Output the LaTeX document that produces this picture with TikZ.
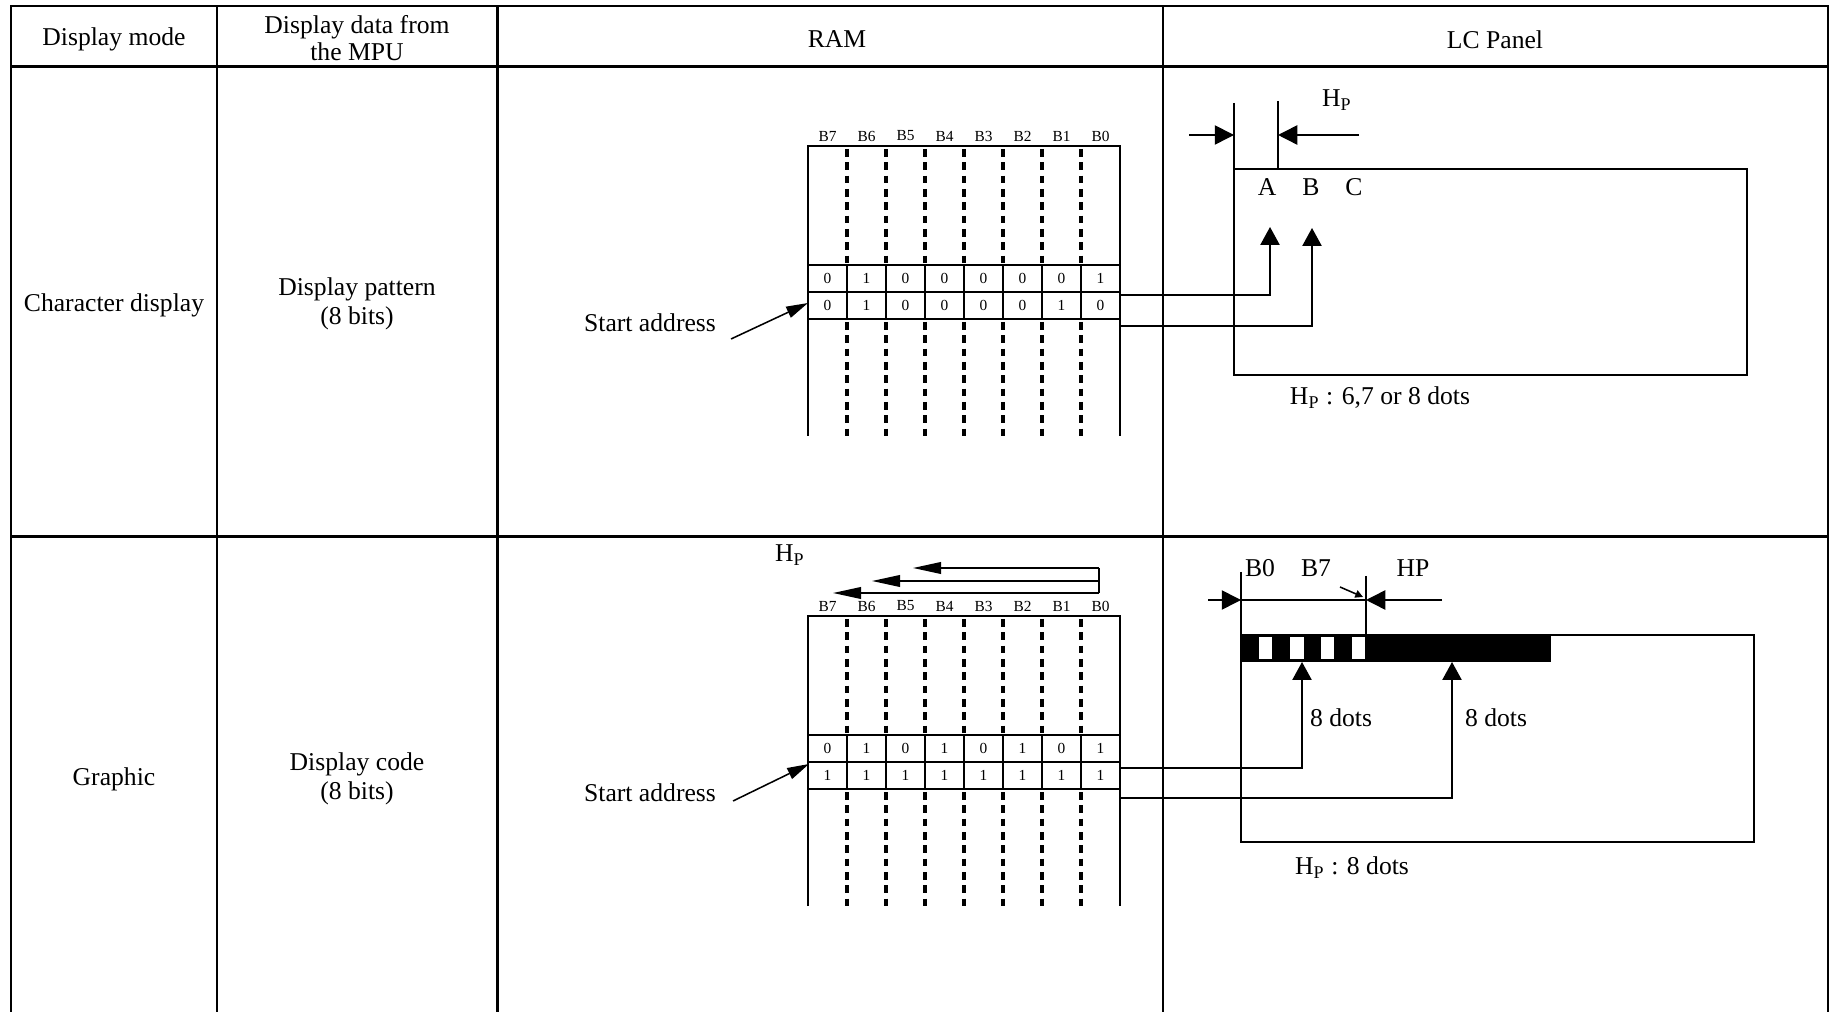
\documentclass[tikz,border=0pt]{standalone}
\usepackage{fontspec}
\setmainfont{Liberation Serif}
\usetikzlibrary{arrows.meta}
\tikzset{
  every picture/.style={x=0.39pt, y=-0.39pt},
  rule/.style={line width=0.8pt},
  lbl/.style={font=\fontsize{10}{11.5}\selectfont, inner sep=0pt, align=center},
  bitlbl/.style={font=\fontsize{6}{7}\selectfont, inner sep=0pt},
  bitdash/.style={line width=1.2pt, dash pattern=on 3pt off 2.2pt},
  wire/.style={line width=0.6pt},
  uparrow/.style={wire, -{Triangle[length=7pt, width=7.5pt]}},
  dimarrow/.style={wire, -{Triangle[length=7.5pt, width=7.5pt]}},
  shiftarrow/.style={wire, -{Triangle[length=11pt, width=4.6pt]}},
  startarrow/.style={wire, -{Triangle[length=8.5pt, width=4.6pt]}},
}
\newcommand{\hp}{H\textsubscript{P}}

\begin{document}
\begin{tikzpicture}
  \useasboundingbox (0,0) rectangle (1836,1012);
  % table frame
  \draw[rule] (11,1012) -- (11,6) -- (1828,6) -- (1828,1012);
  \draw[rule] (11,66.5) -- (1828,66.5) (11,536.5) -- (1828,536.5);
  \foreach \x in {217,497.5,1163} \draw[rule] (\x,6) -- (\x,1012);
  \node[lbl] (hmode) at (114,39.5) {Display mode};
  \node[lbl, font=\fontsize{10}{10.5}\selectfont] (hdata) at (357,38) {Display data from\\the MPU};
  \node[lbl] (hram) at (837,39.5) {RAM};
  \node[lbl] (hlcd) at (1495,39.5) {LC Panel};
  \node[lbl] (mchar) at (114,305.5) {Character display};
  \node[lbl] (dchar) at (357,304) {Display pattern\\(8 bits)};
  \node[lbl] (mgfx) at (114,779.5) {Graphic};
  \node[lbl] (dgfx) at (357,779) {Display code\\(8 bits)};

  % RAM blocks
  \foreach \oy/\ra/\rb [count=\k] in {0/{0,1,0,0,0,0,0,1}/{0,1,0,0,0,0,1,0}, 470/{0,1,0,1,0,1,0,1}/{1,1,1,1,1,1,1,1}} {
    \begin{scope}[shift={(0,\oy)}]
      \draw[rule] (808,436) -- (808,146) -- (1120,146) -- (1120,436);
      \draw[rule] (808,265) -- (1120,265) (808,292) -- (1120,292) (808,319) -- (1120,319);
      \foreach \i in {1,...,7} {
        \draw[rule] (808+39*\i,265) -- (808+39*\i,319);
        \draw[bitdash] (808+39*\i,149) -- (808+39*\i,265) (808+39*\i,322) -- (808+39*\i,436);
      }
      \foreach \i in {0,...,7} {
        \pgfmathtruncatemacro{\b}{7-\i}
        \node[bitlbl] (bit\k-\i) at (827.5+39*\i,136) {B\b};
      }
      \foreach \v [count=\i from 0] in \ra \node[bitlbl] (ra\k-\i) at (827.5+39*\i,278.5) {\v};
      \foreach \v [count=\i from 0] in \rb \node[bitlbl] (rb\k-\i) at (827.5+39*\i,305.5) {\v};
    \end{scope}
  }
  \node[lbl] (start1) at (650,323) {Start address};
  \coordinate (st1) at (731,339);
  \draw[startarrow] (st1) -- (808,303);
  \node[lbl] (start2) at (650,793) {Start address};
  \coordinate (st2) at (733,801);
  \draw[startarrow] (st2) -- (809,764);

  % bit order of the graphic RAM
  \node[lbl] (hpg) at (790,555) {\hp};
  \coordinate (sh0) at (1099,568);
  \coordinate (sh1) at (1099,581);
  \coordinate (sh2) at (1099,593);
  \draw[wire] (sh0) -- (sh2);
  \draw[shiftarrow] (sh0) -- (913,568);
  \draw[shiftarrow] (sh1) -- (872,581);
  \draw[shiftarrow] (sh2) -- (833,593);

  % LC panel, character display
  \draw[wire] (1234,103) -- (1234,375) -- (1747,375) -- (1747,169) -- (1234,169);
  \draw[wire] (1278,101) -- (1278,169);
  \coordinate (ca) at (1234,135);
  \coordinate (cb) at (1278,135);
  \draw[dimarrow] (1189,135) -- (ca);
  \draw[dimarrow] (1359,135) -- (cb);
  \node[lbl] (hpc) at (1337,100) {\hp};
  \node[lbl] (la) at (1267,187) {A};
  \node[lbl] (lb) at (1311,187) {B};
  \node[lbl] (lc) at (1354,187) {C};
  \draw[uparrow] (1120,295) -- (1270,295) -- (1270,227);
  \draw[uparrow] (1120,326) -- (1312,326) -- (1312,228);
  \node[lbl] (notec) at (1380,398) {\hp\ : 6,7 or 8 dots};

  % LC panel, graphic
  \draw[wire] (1241,572) -- (1241,842) -- (1754,842) -- (1754,635) -- (1241,635);
  \fill (1241,635) rectangle (1551,662);
  \foreach \x in {1258.5,1290,1320.5,1351.5} \fill[white] (\x,637.5) rectangle ++(13.5,22);
  \draw[wire] (1366,576) -- (1366,635);
  \coordinate (ga) at (1241,600);
  \coordinate (gb) at (1366,600);
  \draw[wire] (ga) -- (gb);
  \draw[dimarrow] (1208,600) -- (ga);
  \draw[dimarrow] (1442,600) -- (gb);
  \draw[wire, -{Triangle[length=3pt, width=3pt]}] (1340,587) -- (1363,597);
  \node[lbl] (lb0) at (1260,568) {B0};
  \node[lbl] (lb7) at (1316,568) {B7};
  \node[lbl] (lhp) at (1413,568) {HP};
  \draw[uparrow] (1120,768) -- (1302,768) -- (1302,662);
  \draw[uparrow] (1120,798) -- (1452,798) -- (1452,662);
  \node[lbl] (dots1) at (1341,718) {8 dots};
  \node[lbl] (dots2) at (1496,718) {8 dots};
  \node[lbl] (noteg) at (1352,868) {\hp\ : 8 dots};
\end{tikzpicture}
\end{document}
